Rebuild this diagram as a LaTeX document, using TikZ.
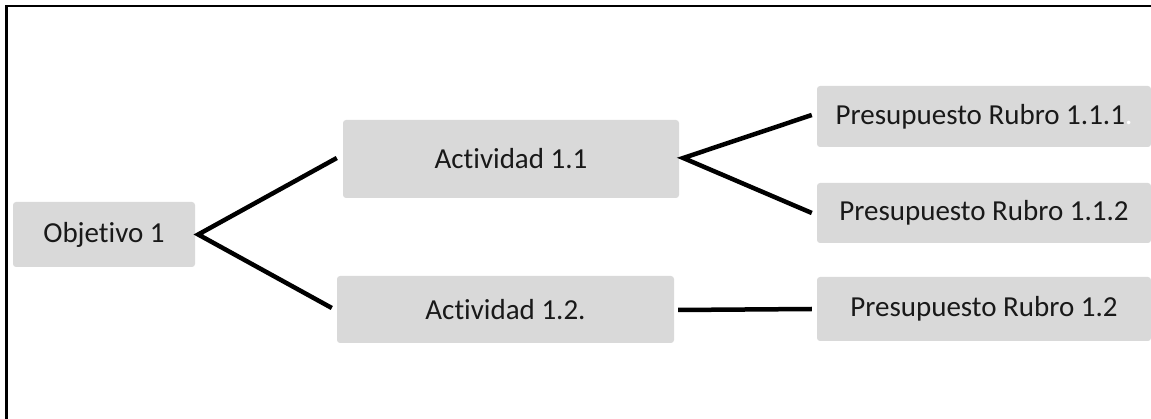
\documentclass[tikz,border=0pt]{standalone}
\usepackage{fontspec}
\setmainfont[Ligatures={NoCommon,NoContextual}]{Carlito}
\definecolor{boxgray}{HTML}{D9D9D9}
\begin{document}
\begin{tikzpicture}[x=1pt,y=-1pt,
  box/.style={fill=boxgray, rounded corners=3pt, inner sep=0pt,
    font=\fontsize{29}{34}\selectfont, text=black!90},
  conn/.style={line width=4.5pt, draw=black}]
\useasboundingbox (0,0) rectangle (1151,419);
\draw[line width=2.2pt] (6.5,419) -- (6.5,6) -- (1151,6);
\node[box, minimum width=182pt, minimum height=65pt] (o) at (104,234.5) {Objetivo 1};
\node[box, minimum width=336pt, minimum height=78pt] (a1) at (511,159) {Actividad 1.1};
\node[box, minimum width=337pt, minimum height=67pt] (a2) at (505.5,309.5) {Actividad 1.2.};
\node[box, minimum width=334pt, minimum height=61pt] (p1) at (984,116.5) {Presupuesto Rubro 1.1.1\textcolor{white}{.}};
\node[box, minimum width=334pt, minimum height=60pt] (p2) at (984,213) {Presupuesto Rubro 1.1.2};
\node[box, minimum width=334pt, minimum height=64pt] (p3) at (984,309) {Presupuesto Rubro 1.2};
\draw[conn] ([xshift=-6pt,yshift=1pt]a1.west) -- ([xshift=3pt]o.east) -- ([xshift=-5pt,yshift=1.5pt]a2.west);
\draw[conn] ([xshift=-5pt,yshift=1.5pt]p1.west) -- ([xshift=4pt,yshift=1pt]a1.east) -- ([xshift=-5pt]p2.west);
\draw[conn] ([xshift=4pt,yshift=-0.5pt]a2.east) -- ([xshift=-5pt]p3.west);
\end{tikzpicture}
\end{document}
